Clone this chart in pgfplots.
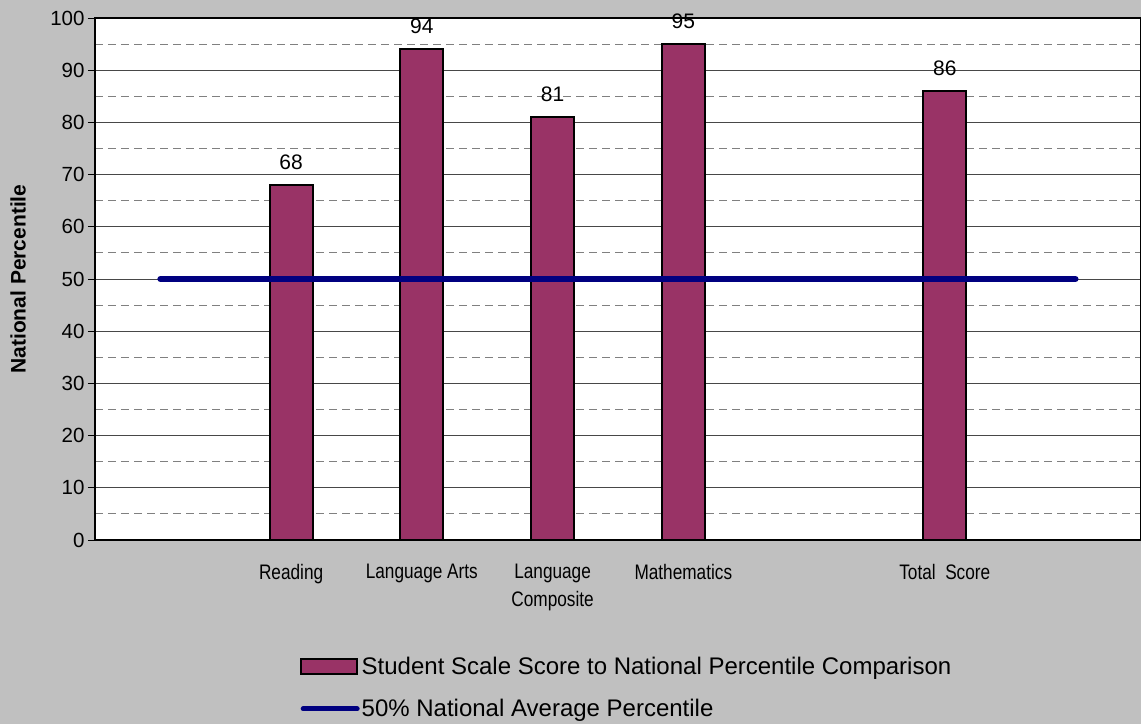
\documentclass[border=0pt]{standalone}
\usepackage{pgfplots}
\pgfplotsset{compat=1.18}
\usepackage{fontspec}
\setmainfont{Liberation Sans}
\newfontfamily\condensed{Liberation Sans}[FakeStretch=0.82]
\definecolor{bgray}{HTML}{C0C0C0}
\definecolor{barc}{HTML}{993366}
\definecolor{navy}{HTML}{000080}
\begin{document}
\begin{tikzpicture}
\clip (0pt,0pt) rectangle (1141pt,724pt);
\fill[bgray] (0pt,0pt) rectangle (1141pt,724pt);
\begin{axis}[
  at={(95pt,184pt)}, anchor=south west,
  scale only axis, width=1046pt, height=522pt,
  xmin=-0.5, xmax=7.5, ymin=0, ymax=100,
  axis background/.style={fill=white},
  axis line style={line width=2pt, black},
  xtick={1,2,3,4,6},
  xticklabels={Reading, Language Arts, {Language\\Composite}, Mathematics, {Total\ \ Score}},
  xticklabel style={align=center, font=\condensed\fontsize{21}{28}\selectfont, yshift=-14pt},
  major x tick style={draw=none},
  ytick={0,10,...,100},
  minor ytick={5,15,...,95},
  minor y tick style={draw=none},
  major y tick style={black, line width=1pt},
  tick align=outside,
  major tick length=7pt,
  yticklabel style={font=\fontsize{20.5}{22}\selectfont},
  /pgf/number format/assume math mode=true,
  ymajorgrids, yminorgrids,
  major grid style={draw=black!72, line width=1pt},
  minor grid style={draw=black!50, dash pattern=on 8pt off 5pt, line width=1pt},
  ylabel={\textbf{National Percentile}},
  ylabel style={at={(axis description cs:-0.0736,0.5)}, anchor=center, font=\fontsize{21}{24}\selectfont},
  legend style={at={(0.196,-0.221)}, anchor=north west, draw=none, fill=none,
    font=\fontsize{24}{28}\selectfont, row sep=19pt, inner sep=0pt,
    nodes={inner sep=2pt}},
  legend cell align=left,
]
\addplot[ybar, bar width=43pt, fill=barc, draw=black, line width=2pt,
  nodes near coords, nodes near coords style={font=\fontsize{21}{24}\selectfont, black, yshift=11pt},
  legend image code/.code={\draw[fill=barc, draw=black, line width=2pt] (0pt,-7pt) rectangle (56pt,8pt);}]
  coordinates {(1,68) (2,94) (3,81) (4,95) (6,86)};
\addlegendentry{Student Scale Score to National Percentile Comparison}
\addplot[navy, line width=6pt, line cap=round, mark=none,
  legend image code/.code={\draw[navy, line width=5pt, line cap=round] (2pt,0pt) -- (56pt,0pt);}]
  coordinates {(0,50) (7,50)};
\addlegendentry{50\% National Average Percentile}
\end{axis}
\end{tikzpicture}
\end{document}
